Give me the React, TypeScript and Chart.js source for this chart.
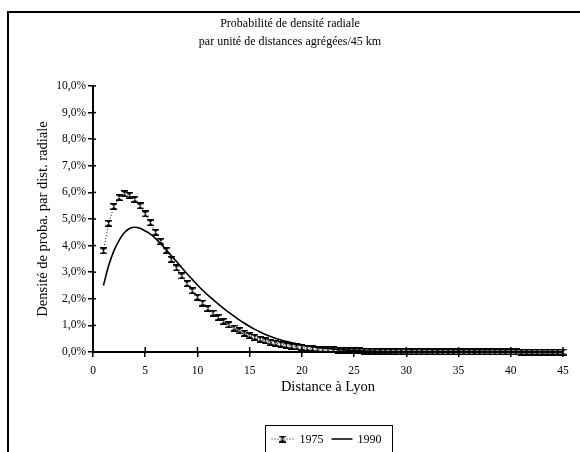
import React, { useEffect, useRef } from "react";
import { Chart, registerables } from "chart.js";
Chart.register(...registerables);

const titleLines = ["Probabilité de densité radiale", "par unité de distances agrégées/45 km"];
const xAxisTitle = "Distance à Lyon";
const yAxisTitle = "Densité de proba. par dist. radiale";
const seriesNames = ["1975", "1990"];

const distances = [
  1, 1.5, 2, 2.5, 3, 3.5, 4, 4.5, 5, 5.5,
  6, 6.5, 7, 7.5, 8, 8.5, 9, 9.5, 10, 10.5,
  11, 11.5, 12, 12.5, 13, 13.5, 14, 14.5, 15, 15.5,
  16, 16.5, 17, 17.5, 18, 18.5, 19, 19.5, 20, 20.5,
  21, 21.5, 22, 22.5, 23, 23.5, 24, 24.5, 25, 25.5,
  26, 26.5, 27, 27.5, 28, 28.5, 29, 29.5, 30, 30.5,
  31, 31.5, 32, 32.5, 33, 33.5, 34, 34.5, 35, 35.5,
  36, 36.5, 37, 37.5, 38, 38.5, 39, 39.5, 40, 40.5,
  41, 41.5, 42, 42.5, 43, 43.5, 44, 44.5, 45,
];

const series1975 = [
  3.80, 4.84, 5.47, 5.81, 5.95, 5.89, 5.74, 5.49, 5.19, 4.86,
  4.50, 4.16, 3.81, 3.48, 3.16, 2.86, 2.57, 2.30, 2.06, 1.84,
  1.64, 1.46, 1.30, 1.15, 1.02, 0.90, 0.80, 0.71, 0.62, 0.55,
  0.48, 0.42, 0.37, 0.33, 0.29, 0.25, 0.22, 0.19, 0.17, 0.15,
  0.13, 0.11, 0.10, 0.09, 0.08, 0.07, 0.06, 0.05, 0.045, 0.04,
  0.035, 0.03, 0.025, 0.02, 0.018, 0.015, 0.012, 0.01, 0.008, 0.007,
  0.006, 0.005, 0.005, 0.004, 0.004, 0.003, 0.003, 0.003, 0.002, 0.002,
  0.002, 0.002, 0.001, 0.001, 0.001, 0.001, 0.001, 0.001, 0.001, 0.001,
  0, 0, 0, 0, 0, 0, 0, 0, 0,
];

const series1990 = [
  2.50, 3.25, 3.80, 4.20, 4.48, 4.64, 4.69, 4.65, 4.55, 4.43,
  4.26, 4.06, 3.85, 3.62, 3.40, 3.17, 2.94, 2.73, 2.52, 2.32,
  2.14, 1.97, 1.80, 1.64, 1.49, 1.35, 1.21, 1.08, 0.96, 0.85,
  0.75, 0.66, 0.58, 0.51, 0.45, 0.40, 0.35, 0.31, 0.27, 0.23,
  0.20, 0.17, 0.15, 0.13, 0.11, 0.09, 0.08, 0.07, 0.06, 0.05,
  0.04, 0.035, 0.03, 0.025, 0.02, 0.017, 0.014, 0.012, 0.01, 0.008,
  0.007, 0.006, 0.005, 0.004, 0.004, 0.003, 0.003, 0.002, 0.002, 0.002,
  0.002, 0.001, 0.001, 0.001, 0.001, 0.001, 0.001, 0.001, 0.001, 0.001,
  0.001, 0.001, 0, 0, 0, 0, 0, 0, 0,
];

const FONT = "'Liberation Serif', 'Times New Roman', serif";

function makeHourglass(): HTMLCanvasElement {
  const c = document.createElement("canvas");
  c.width = 7;
  c.height = 7;
  const g = c.getContext("2d")!;
  g.fillStyle = "#000";
  g.beginPath();
  g.moveTo(0.5, 0.5);
  g.lineTo(6.5, 0.5);
  g.lineTo(3.5, 3.5);
  g.lineTo(6.5, 6.5);
  g.lineTo(0.5, 6.5);
  g.lineTo(3.5, 3.5);
  g.closePath();
  g.fill();
  g.fillRect(0, 0, 7, 1.5);
  g.fillRect(0, 5.5, 7, 1.5);
  return c;
}

export default function App() {
  const ref = useRef<HTMLCanvasElement | null>(null);

  useEffect(() => {
    if (!ref.current) return;
    const marker = makeHourglass();

    const decorPlugin = {
      id: "decor",
      afterDraw(chart: any) {
        const ctx = chart.ctx;
        const { left, right, bottom } = chart.chartArea;
        ctx.save();
        ctx.strokeStyle = "#000";
        ctx.lineWidth = 1.5;
        const xs = chart.scales.x;
        const ys = chart.scales.y;
        xs.ticks.forEach((t: any) => {
          const px = xs.getPixelForValue(t.value);
          ctx.beginPath();
          ctx.moveTo(px, bottom);
          ctx.lineTo(px, bottom - 5);
          ctx.stroke();
        });
        ys.ticks.forEach((t: any) => {
          const py = ys.getPixelForValue(t.value);
          ctx.beginPath();
          ctx.moveTo(left, py);
          ctx.lineTo(left + 3, py);
          ctx.stroke();
        });
        // title
        ctx.fillStyle = "#000";
        ctx.font = `12px ${FONT}`;
        ctx.textAlign = "center";
        ctx.textBaseline = "middle";
        ctx.fillText(titleLines[0], 290, 24);
        ctx.fillText(titleLines[1], 290, 42);
        // legend
        const cx = (left + right) / 2;
        const bw = 127;
        const bx = Math.round(cx - bw / 2) + 0.5;
        const by = 425.5;
        ctx.lineWidth = 1;
        ctx.strokeRect(bx, by, bw, 40);
        const ly = 439;
        ctx.setLineDash([1, 2]);
        ctx.beginPath();
        ctx.moveTo(bx + 6, ly);
        ctx.lineTo(bx + 28, ly);
        ctx.stroke();
        ctx.setLineDash([]);
        ctx.drawImage(marker, bx + 17 - 3.5, ly - 3.5);
        ctx.textAlign = "left";
        ctx.font = `12px ${FONT}`;
        ctx.fillText(seriesNames[0], bx + 34, ly + 0.5);
        ctx.lineWidth = 1.5;
        ctx.beginPath();
        ctx.moveTo(bx + 66, ly);
        ctx.lineTo(bx + 87, ly);
        ctx.stroke();
        ctx.fillText(seriesNames[1], bx + 92, ly + 0.5);
        ctx.restore();
      },
    };

    const chart = new Chart(ref.current, {
      type: "line",
      data: {
        datasets: [
          {
            label: seriesNames[0],
            data: distances.map((d, i) => ({ x: d, y: series1975[i] })),
            borderColor: "#000",
            borderWidth: 1,
            borderDash: [1, 2],
            pointStyle: marker as any,
            pointRadius: 3,
            tension: 0,
            clip: false as any,
          },
          {
            label: seriesNames[1],
            data: distances.map((d, i) => ({ x: d, y: series1990[i] })),
            borderColor: "#000",
            borderWidth: 1.6,
            pointRadius: 0,
            tension: 0.4,
            cubicInterpolationMode: "monotone",
            clip: false as any,
          },
        ],
      },
      options: {
        responsive: false,
        animation: false,
        layout: { padding: { left: 0, right: 17, top: 86, bottom: 0 } },
        plugins: {
          legend: { display: false },
          title: { display: false },
          tooltip: { enabled: false },
        },
        scales: {
          x: {
            type: "linear",
            min: 0,
            max: 45,
            afterFit: (s: any) => {
              s.height = 100;
            },
            ticks: {
              stepSize: 5,
              color: "#000",
              font: { family: FONT, size: 11.5 },
              padding: 7,
              maxRotation: 0,
            },
            grid: {
              display: true,
              drawOnChartArea: false,
              drawTicks: true,
              tickLength: 5,
              color: "#000",
              lineWidth: 1.5,
            },
            border: { display: true, color: "#000", width: 2 },
            title: {
              display: true,
              text: xAxisTitle,
              color: "#000",
              font: { family: FONT, size: 14.5 },
              padding: { top: 0, bottom: 56 },
            },
          },
          y: {
            type: "linear",
            min: 0,
            max: 10,
            afterFit: (s: any) => {
              s.width = 93;
            },
            ticks: {
              stepSize: 1,
              color: "#000",
              font: { family: FONT, size: 11.5 },
              padding: 2,
              callback: (v: any) => Number(v).toFixed(1).replace(".", ",") + "%",
            },
            grid: {
              display: true,
              drawOnChartArea: false,
              drawTicks: true,
              tickLength: 5,
              color: "#000",
              lineWidth: 1.5,
            },
            border: { display: true, color: "#000", width: 2 },
            title: {
              display: true,
              text: yAxisTitle,
              color: "#000",
              font: { family: FONT, size: 14.5 },
              padding: { top: 34, bottom: 0 },
            },
          },
        },
      },
      plugins: [decorPlugin],
    });
    return () => chart.destroy();
  }, []);

  return (
    <div
      style={{
        position: "fixed",
        left: 0,
        top: 0,
        width: 580,
        height: 452,
        overflow: "hidden",
        background: "#fff",
      }}
    >
      <div
        style={{
          position: "absolute",
          left: 7,
          top: 11,
          width: 620,
          height: 500,
          borderLeft: "2px solid #000",
          borderTop: "2px solid #000",
        }}
      />
      <canvas
        ref={ref}
        width={580}
        height={452}
        style={{ position: "absolute", left: 0, top: 0, width: 580, height: 452 }}
      />
    </div>
  );
}
